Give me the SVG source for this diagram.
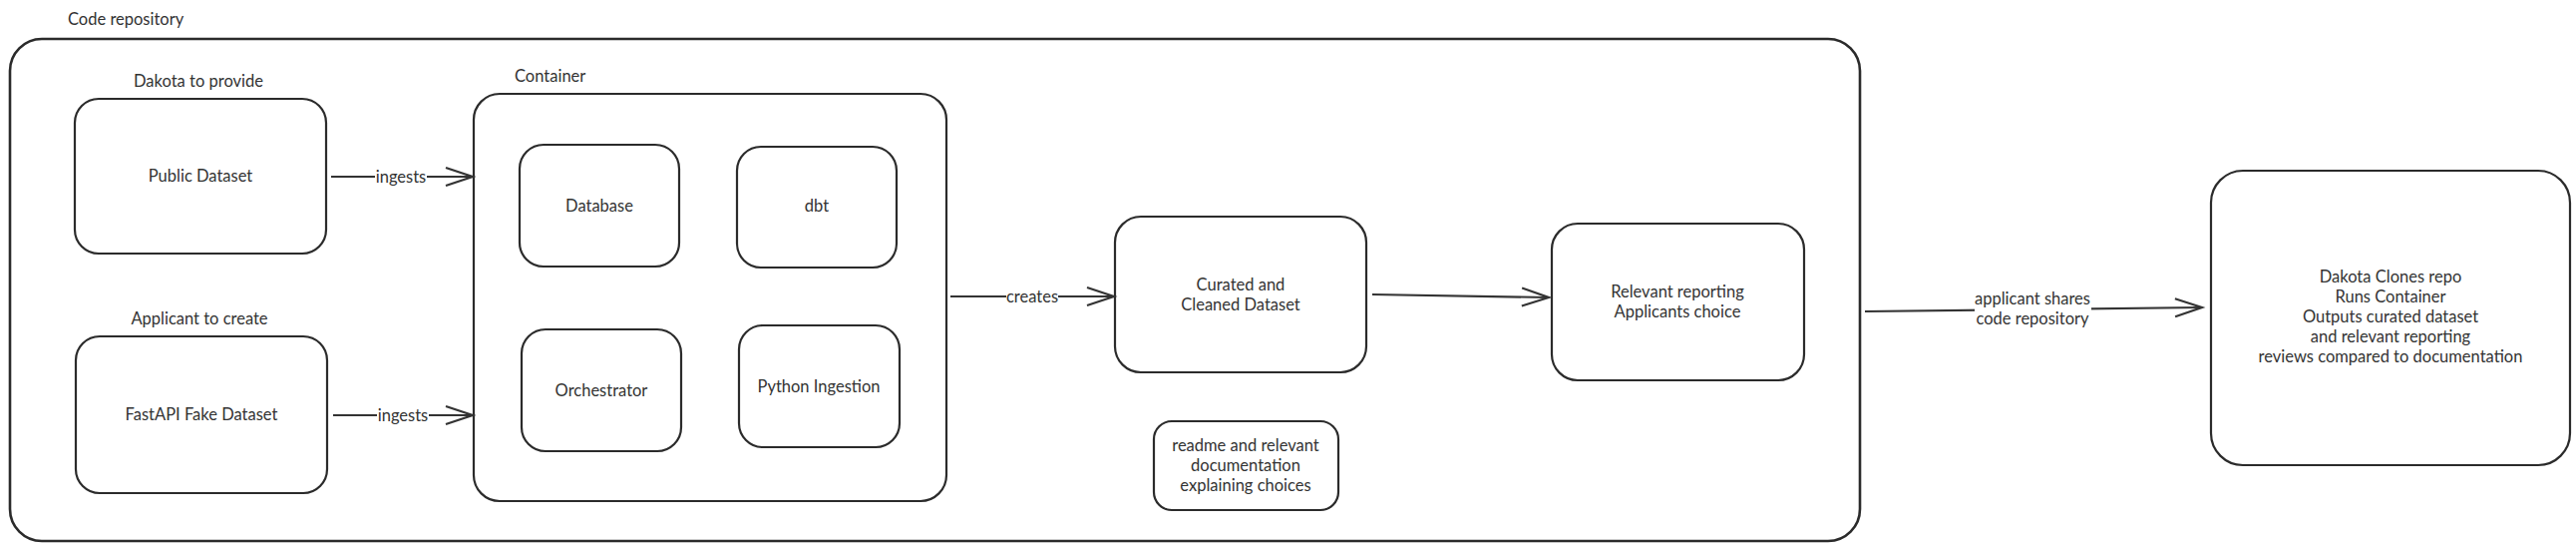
<svg xmlns="http://www.w3.org/2000/svg" width="2583" height="552" viewBox="0 0 2583 552">
<style>
.box{fill:#fff;stroke:#2b2b2b;stroke-width:2.2}
.outer{fill:#fff;stroke:#2b2b2b;stroke-width:2.6}
text{font-family:Lato,"Liberation Sans",sans-serif;font-size:16.5px;fill:#333}
.c{text-anchor:middle}
.edge{fill:none;stroke:#333;stroke-width:2.2}
.lblbg{fill:#fff}
</style>
<defs>
<marker id="arr" markerUnits="userSpaceOnUse" viewBox="-2 -2 31 22" refX="27" refY="9" markerWidth="31" markerHeight="22" orient="auto" overflow="visible">
<path d="M0,0 L27,9 L0,18" fill="none" stroke="#333" stroke-width="2.2"/>
</marker>
</defs>
<rect width="2583" height="552" fill="#fff"/>
<g id="code-repository">
<rect class="outer" x="10" y="39" width="1855" height="503" rx="32"/>
<text x="68" y="25">Code repository</text>
</g>
<g id="public-dataset">
<text class="c" x="199" y="87">Dakota to provide</text>
<rect class="box" x="75" y="99" width="252" height="155" rx="24"/>
<text class="c" x="201" y="182">Public Dataset</text>
</g>
<g id="fastapi-fake-dataset">
<text class="c" x="200" y="325">Applicant to create</text>
<rect class="box" x="76" y="337" width="252" height="157" rx="24"/>
<text class="c" x="202" y="421">FastAPI Fake Dataset</text>
</g>
<g id="container">
<text x="516" y="82">Container</text>
<rect class="box" x="475" y="94" width="474" height="408" rx="26"/>
</g>
<g id="database">
<rect class="box" x="521" y="145" width="160" height="122" rx="24"/>
<text class="c" x="601" y="212">Database</text>
</g>
<g id="dbt">
<rect class="box" x="739" y="147" width="160" height="121" rx="24"/>
<text class="c" x="819" y="212">dbt</text>
</g>
<g id="orchestrator">
<rect class="box" x="523" y="330" width="160" height="122" rx="24"/>
<text class="c" x="603" y="397">Orchestrator</text>
</g>
<g id="python-ingestion">
<rect class="box" x="741" y="326" width="161" height="122" rx="24"/>
<text class="c" x="821" y="393">Python Ingestion</text>
</g>
<g id="curated-dataset">
<rect class="box" x="1118" y="217" width="252" height="156" rx="26"/>
<text class="c" x="1244" y="291">Curated and</text>
<text class="c" x="1244" y="311">Cleaned Dataset</text>
</g>
<g id="relevant-reporting">
<rect class="box" x="1556" y="224" width="253" height="157" rx="26"/>
<text class="c" x="1682" y="298">Relevant reporting</text>
<text class="c" x="1682" y="318">Applicants choice</text>
</g>
<g id="readme">
<rect class="box" x="1157" y="422" width="185" height="89" rx="18"/>
<text class="c" x="1249" y="452">readme and relevant</text>
<text class="c" x="1249" y="472">documentation</text>
<text class="c" x="1249" y="492">explaining choices</text>
</g>
<g id="dakota-review">
<rect class="box" x="2217" y="171" width="360" height="295" rx="32"/>
<text class="c" x="2397" y="283">Dakota Clones repo</text>
<text class="c" x="2397" y="303">Runs Container</text>
<text class="c" x="2397" y="323">Outputs curated dataset</text>
<text class="c" x="2397" y="343">and relevant reporting</text>
<text class="c" x="2397" y="363">reviews compared to documentation</text>
</g>
<g id="connectors">
<path class="edge" d="M332,177 L474,177" marker-end="url(#arr)"/>
<rect class="lblbg" x="376" y="166" width="52" height="22"/>
<text class="c" x="402" y="183">ingests</text>
<path class="edge" d="M334,416 L474,416" marker-end="url(#arr)"/>
<rect class="lblbg" x="378" y="405" width="52" height="22"/>
<text class="c" x="404" y="422">ingests</text>
<path class="edge" d="M953,297 L1117,297" marker-end="url(#arr)"/>
<rect class="lblbg" x="1009" y="286" width="52" height="22"/>
<text class="c" x="1035" y="303">creates</text>
<path class="edge" d="M1376,295 L1553,298" marker-end="url(#arr)"/>
<path class="edge" d="M1870,312 L2208,308" marker-end="url(#arr)"/>
<rect class="lblbg" x="1980" y="291" width="117" height="40"/>
<text class="c" x="2038" y="305">applicant shares</text>
<text class="c" x="2038" y="325">code repository</text>
</g>
</svg>
